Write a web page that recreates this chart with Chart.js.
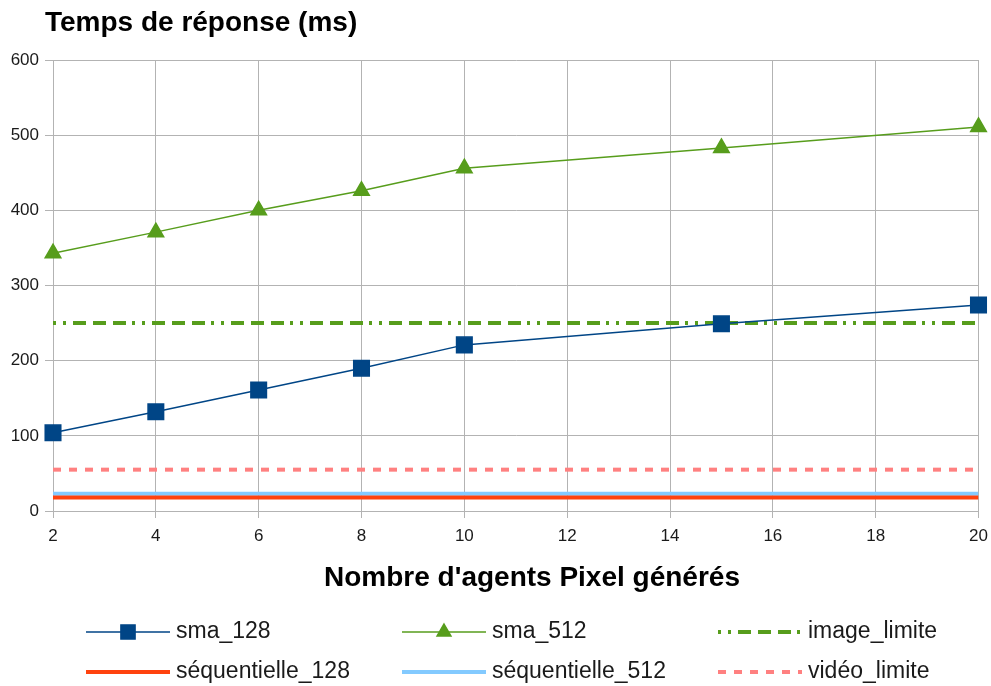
<!DOCTYPE html>
<html lang="fr">
<head>
<meta charset="utf-8">
<title>Temps de réponse (ms)</title>
<script src="https://cdn.jsdelivr.net/npm/chart.js@4/dist/chart.umd.min.js"></script>
<style>
    html, body { margin: 0; padding: 0; background: #ffffff; }
    #wrap { position: relative; width: 991px; height: 686px; }
</style>
</head>
<body>
<div id="wrap"><canvas id="chart"></canvas></div>
<script>
// Number of generated Pixel agents
const agents = [2, 4, 6, 8, 10, 15, 20];

// Response times (ms)
const sma128 = [104, 132, 161, 190, 221, 249, 274];
const sma512 = [343, 371, 400, 426, 456, 483, 511];

// Constant reference levels, drawn across the whole x range
const limitRange = [2, 20];
const sequentielle128 = [18, 18];
const sequentielle512 = [23, 23];
const imageLimite = [250, 250];
const videoLimite = [55, 55];

const xTicks = [2, 4, 6, 8, 10, 12, 14, 16, 18, 20];
const yTicks = [0, 100, 200, 300, 400, 500, 600];

const FONT = '"Liberation Sans", Arial, sans-serif';

function toPoints(xs, ys) {
    return xs.map((x, i) => ({ x: x, y: ys[i] }));
}

// Titles and the 3x2 legend are painted straight onto the canvas
const decorations = {
    id: 'decorations',
    afterDraw(chart) {
        const ctx = chart.ctx;
        ctx.save();
        ctx.fillStyle = '#000000';
        ctx.textBaseline = 'middle';

        ctx.font = 'bold 28px ' + FONT;
        ctx.textAlign = 'left';
        ctx.fillText('Temps de réponse (ms)', 45, 23);

        ctx.font = 'bold 28px ' + FONT;
        ctx.textAlign = 'center';
        ctx.fillText("Nombre d'agents Pixel générés", 532, 578);

        // legend entries: column / row follow dataset order
        const cols = [86, 402, 718];
        const rows = [632, 672];
        ctx.font = '23px ' + FONT;
        ctx.textAlign = 'left';
        chart.data.datasets.forEach((ds, i) => {
            const x = cols[i % 3];
            const y = rows[Math.floor(i / 3)];
            ctx.save();
            ctx.strokeStyle = ds.borderColor;
            ctx.lineWidth = ds.borderWidth;
            ctx.setLineDash(ds.borderDash || []);
            ctx.beginPath();
            ctx.moveTo(x, y);
            ctx.lineTo(x + 84, y);
            ctx.stroke();
            ctx.restore();
            if (ds.pointRadius > 0) {
                ctx.fillStyle = ds.pointBackgroundColor;
                ctx.strokeStyle = ds.pointBorderColor;
                Chart.helpers.drawPoint(ctx, {
                    pointStyle: ds.pointStyle,
                    radius: ds.pointRadius - 1,
                    borderWidth: 1,
                    rotation: 0
                }, x + 42, y);
            }
            ctx.fillStyle = '#1a1a1a';
            ctx.fillText(ds.label, x + 90, y);
        });
        ctx.restore();
    }
};

const ctx = document.getElementById('chart').getContext('2d');

new Chart(ctx, {
    type: 'line',
    data: {
        datasets: [
            {
                label: 'sma_128',
                data: toPoints(agents, sma128),
                borderColor: '#004586',
                borderWidth: 1.5,
                pointStyle: 'rect',
                pointRadius: 11,
                pointBackgroundColor: '#004586',
                pointBorderColor: '#004586',
                clip: false,
                order: 1
            },
            {
                label: 'sma_512',
                data: toPoints(agents, sma512),
                borderColor: '#579d1c',
                borderWidth: 1.5,
                pointStyle: 'triangle',
                pointRadius: 9,
                pointBackgroundColor: '#579d1c',
                pointBorderColor: '#579d1c',
                clip: false,
                order: 2
            },
            {
                label: 'image_limite',
                data: toPoints(limitRange, imageLimite),
                borderColor: '#579d1c',
                borderWidth: 4,
                borderDash: [3, 7, 3, 7, 13, 7, 13, 7, 13, 6],
                borderCapStyle: 'butt',
                pointRadius: 0,
                order: 3
            },
            {
                label: 'séquentielle_128',
                data: toPoints(limitRange, sequentielle128),
                borderColor: '#ff420e',
                borderWidth: 4,
                pointRadius: 0,
                order: 4
            },
            {
                label: 'séquentielle_512',
                data: toPoints(limitRange, sequentielle512),
                borderColor: '#83caff',
                borderWidth: 4,
                pointRadius: 0,
                order: 5
            },
            {
                label: 'vidéo_limite',
                data: toPoints(limitRange, videoLimite),
                borderColor: '#ff8080',
                borderWidth: 4,
                borderDash: [8, 8],
                pointRadius: 0,
                order: 6
            }
        ]
    },
    options: {
        responsive: true,
        maintainAspectRatio: false,
        animation: false,
        layout: {
            padding: { top: 60, right: 11, bottom: 0, left: 0 }
        },
        plugins: {
            legend: { display: false },
            title: { display: false },
            tooltip: { enabled: false }
        },
        scales: {
            x: {
                type: 'linear',
                min: 2,
                max: 20,
                afterBuildTicks: (scale) => {
                    scale.ticks = xTicks.map(v => ({ value: v }));
                },
                afterFit: (scale) => {
                    scale.height = 175;
                    scale.paddingLeft = 0;
                    scale.paddingRight = 0;
                },
                ticks: {
                    color: '#1a1a1a',
                    padding: 8,
                    font: { family: FONT, size: 17 }
                },
                grid: { color: '#b3b3b3', tickLength: 7 },
                border: { color: '#b3b3b3' }
            },
            y: {
                min: 0,
                max: 600,
                afterBuildTicks: (scale) => {
                    scale.ticks = yTicks.map(v => ({ value: v }));
                },
                afterFit: (scale) => {
                    scale.width = 53;
                    scale.paddingTop = 0;
                    scale.paddingBottom = 0;
                },
                ticks: {
                    color: '#1a1a1a',
                    padding: 6,
                    font: { family: FONT, size: 17 }
                },
                grid: { color: '#b3b3b3', tickLength: 8 },
                border: { color: '#b3b3b3' }
            }
        }
    },
    plugins: [decorations]
});
</script>
</body>
</html>
